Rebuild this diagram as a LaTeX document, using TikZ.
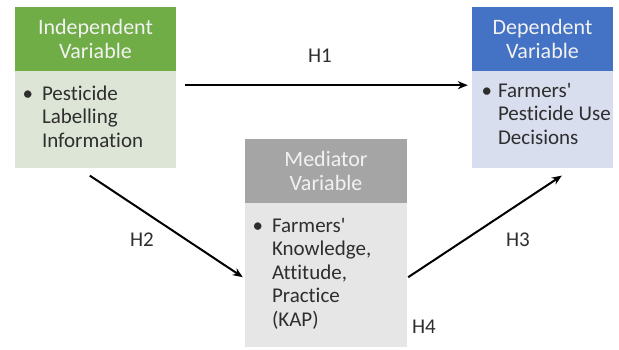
\documentclass[tikz,border=0pt]{standalone}
\usepackage{fontspec}
\setmainfont{Carlito}[Ligatures={NoCommon}]
\usetikzlibrary{calc,arrows.meta}
\definecolor{gHead}{HTML}{70AD47}
\definecolor{gBody}{HTML}{DDE6D6}
\definecolor{bHead}{HTML}{4472C4}
\definecolor{bBody}{HTML}{D9DEEF}
\definecolor{aHead}{HTML}{A5A5A5}
\definecolor{aBody}{HTML}{E6E6E6}
\definecolor{txt}{HTML}{2E2E2E}
\definecolor{htxt}{HTML}{F2F2F2}
\newcommand{\toplines}[1]{\begin{tabular}[t]{@{}l@{}}#1\end{tabular}}
\tikzset{
  hdr/.style={inner sep=0pt, minimum width=#1, minimum height=64pt, text=htxt, align=center, font=\fontsize{22}{24.5}\selectfont},
  bdy/.style={inner sep=0pt, minimum width=#1, anchor=north},
  btxt/.style={anchor=base west, inner sep=0pt, text=txt, font=\fontsize{21}{23.5}\selectfont},
  bul/.style={anchor=base, inner sep=0pt, text=txt, font=\fontsize{21}{23.5}\selectfont},
  lbl/.style={text=txt, inner sep=0pt, font=\fontsize{21}{24}\selectfont},
  arr/.style={-{Stealth[length=10pt,width=8pt]}, line width=2pt, black}
}
\begin{document}
\begin{tikzpicture}[x=1pt,y=1pt]
\useasboundingbox (0,0) rectangle (619,349);
% Independent
\node[hdr=161pt, fill=gHead] (indh) at (95.5,310) {Independent\\Variable};
\node[bdy=161pt, minimum height=97pt, fill=gBody] (indb) at (indh.south) {};
\node[bul] (indbl) at ($(indb.north west)+(13,-29)$) {\textbullet};
\node[btxt] (indt) at ($(indb.north west)+(27,-29)$) {\toplines{Pesticide\\Labelling\\Information}};
% Dependent
\node[hdr=141pt, fill=bHead] (deph) at (542.5,310) {Dependent\\Variable};
\node[bdy=141pt, minimum height=97pt, fill=bBody] (depb) at (deph.south) {};
\node[bul] (depbl) at ($(depb.north west)+(15,-26)$) {\textbullet};
\node[btxt] (dept) at ($(depb.north west)+(26,-26)$) {\toplines{Farmers\textquotesingle\\Pesticide Use\\Decisions}};
% Mediator
\node[hdr=162pt, fill=aHead] (medh) at (326,178) {Mediator\\Variable};
\node[bdy=162pt, minimum height=144pt, fill=aBody] (medb) at (medh.south) {};
\node[bul] (medbl) at ($(medb.north west)+(13,-29)$) {\textbullet};
\node[btxt] (medt) at ($(medb.north west)+(27,-29)$) {\toplines{Farmers\textquotesingle\\Knowledge,\\Attitude,\\Practice\\(KAP)}};
% Arrows
\draw[arr] ($(indb.north east)+(9,-14)$) -- ($(depb.north west)+(-4,-14)$);
\draw[arr] ($(indb.south west)+(75,-7)$) -- ($(medb.north west)+(-2,-74)$);
\draw[arr] ($(medb.north east)+(1,-74)$) -- ($(depb.south west)+(90,-7)$);
% Labels
\node[lbl, anchor=base] (h1) at (320,287) {H1};
\node[lbl, anchor=base] (h2) at (142,103) {H2};
\node[lbl, anchor=base] (h3) at (518,103) {H3};
\node[lbl, anchor=base] (h4) at (424,16) {H4};
\end{tikzpicture}
\end{document}
